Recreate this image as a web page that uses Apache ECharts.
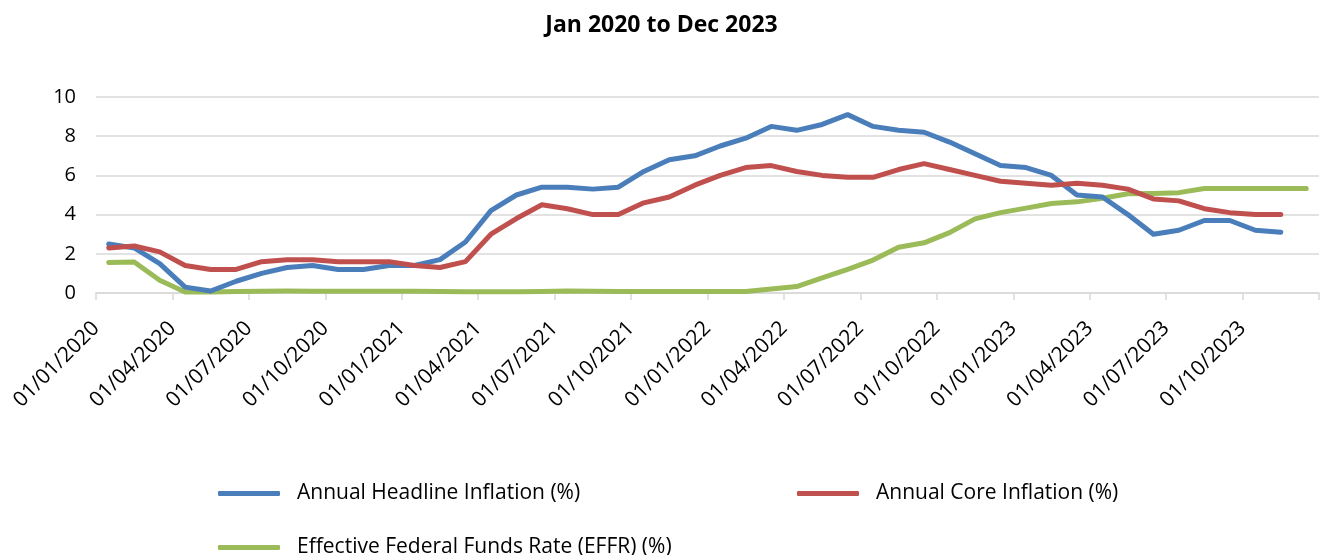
<!DOCTYPE html>
<html>
<head>
<meta charset="utf-8">
<script src="https://cdn.jsdelivr.net/npm/echarts@6/dist/echarts.min.js"></script>
<style>
html,body{margin:0;padding:0;background:#fff;}
#chart{width:1323px;height:555px;}
</style>
</head>
<body>
<div id="chart"></div>
<script>
// Months Jan 2020 .. Dec 2023
const months = [
 '2020-01','2020-02','2020-03','2020-04','2020-05','2020-06','2020-07','2020-08','2020-09','2020-10','2020-11','2020-12',
 '2021-01','2021-02','2021-03','2021-04','2021-05','2021-06','2021-07','2021-08','2021-09','2021-10','2021-11','2021-12',
 '2022-01','2022-02','2022-03','2022-04','2022-05','2022-06','2022-07','2022-08','2022-09','2022-10','2022-11','2022-12',
 '2023-01','2023-02','2023-03','2023-04','2023-05','2023-06','2023-07','2023-08','2023-09','2023-10','2023-11','2023-12'
];
const tickLabels = [
 '01/01/2020','01/04/2020','01/07/2020','01/10/2020',
 '01/01/2021','01/04/2021','01/07/2021','01/10/2021',
 '01/01/2022','01/04/2022','01/07/2022','01/10/2022',
 '01/01/2023','01/04/2023','01/07/2023','01/10/2023'
];
const headline = [2.5,2.3,1.5,0.3,0.1,0.6,1.0,1.3,1.4,1.2,1.2,1.4,
 1.4,1.7,2.6,4.2,5.0,5.4,5.4,5.3,5.4,6.2,6.8,7.0,
 7.5,7.9,8.5,8.3,8.6,9.1,8.5,8.3,8.2,7.7,7.1,6.5,
 6.4,6.0,5.0,4.9,4.0,3.0,3.2,3.7,3.7,3.2,3.1];
const core = [2.3,2.4,2.1,1.4,1.2,1.2,1.6,1.7,1.7,1.6,1.6,1.6,
 1.4,1.3,1.6,3.0,3.8,4.5,4.3,4.0,4.0,4.6,4.9,5.5,
 6.0,6.4,6.5,6.2,6.0,5.9,5.9,6.3,6.6,6.3,6.0,5.7,
 5.6,5.5,5.6,5.5,5.3,4.8,4.7,4.3,4.1,4.0,4.0];
const effr = [1.55,1.58,0.65,0.05,0.05,0.08,0.09,0.10,0.09,0.09,0.09,0.09,
 0.09,0.08,0.07,0.07,0.06,0.08,0.10,0.09,0.08,0.08,0.08,0.08,
 0.08,0.08,0.20,0.33,0.77,1.21,1.68,2.33,2.56,3.08,3.78,4.10,
 4.33,4.57,4.65,4.83,5.06,5.08,5.12,5.33,5.33,5.33,5.33,5.33];
const seriesNames = ['Annual Headline Inflation (%)','Annual Core Inflation (%)','Effective Federal Funds Rate (EFFR) (%)'];
const colors = ['#4a7ebb','#c0504d','#9bbb59'];

const FONT = 'Open Sans';
function pts(arr){ return arr.map((v,i)=>[i+0.5, v]); }

const chart = echarts.init(document.getElementById('chart'), null, {renderer:'canvas'});
const legendCommon = {
  icon: 'roundRect', itemWidth: 62, itemHeight: 5,
  textStyle: {fontFamily: FONT, fontSize: 21, color: '#000', padding:[0,0,0,12]}
};
chart.setOption({
  animation: false,
  color: colors,
  title: {
    text: 'Jan 2020 to Dec 2023', left: 'center', top: 9,
    textStyle: {fontFamily: FONT, fontSize: 23, fontWeight: 'bold', color: '#000'}
  },
  legend: [
    Object.assign({data:[seriesNames[0]], left: 213, top: 478}, legendCommon),
    Object.assign({data:[seriesNames[1]], left: 792, top: 478}, legendCommon),
    Object.assign({data:[seriesNames[2]], left: 213, top: 532}, legendCommon)
  ],
  grid: {left: 96, top: 97, width: 1223, height: 196, containLabel: false},
  xAxis: {
    type: 'value', min: 0, max: 48, interval: 3,
    axisLine: {show: true, lineStyle: {color: '#d9d9d9', width: 1.5}},
    axisTick: {show: true, length: 7, lineStyle: {color: '#d9d9d9', width: 1.5}},
    splitLine: {show: false},
    axisLabel: {
      rotate: 45, margin: 32, fontFamily: FONT, fontSize: 21, color: '#000',
      showMaxLabel: true,
      formatter: function(v){ const k = Math.round(v/3); return tickLabels[k] !== undefined ? tickLabels[k] : ''; }
    }
  },
  yAxis: {
    type: 'value', min: 0, max: 10, interval: 2,
    axisLine: {show: false}, axisTick: {show: false},
    splitLine: {lineStyle: {color: '#d9d9d9', width: 1.5}},
    axisLabel: {fontFamily: FONT, fontSize: 20, color: '#000', margin: 20}
  },
  series: [
    {name: seriesNames[0], type: 'line', data: pts(headline), showSymbol: false, symbol:'none', lineStyle:{width:5, cap:'round', join:'round'}, z: 3},
    {name: seriesNames[1], type: 'line', data: pts(core), showSymbol: false, symbol:'none', lineStyle:{width:5, cap:'round', join:'round'}, z: 4},
    {name: seriesNames[2], type: 'line', data: pts(effr), showSymbol: false, symbol:'none', lineStyle:{width:5, cap:'round', join:'round'}, z: 2}
  ]
});
</script>
</body>
</html>
